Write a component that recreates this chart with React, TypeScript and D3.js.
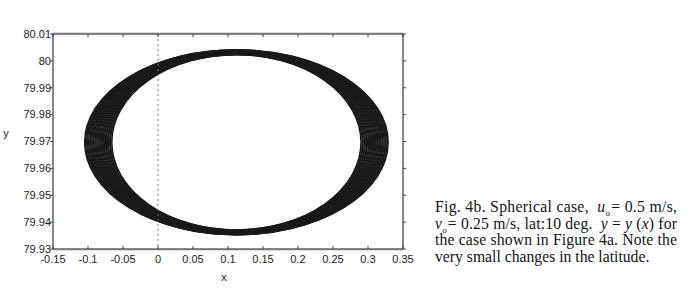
import React from "react";
import * as d3 from "d3";

// tick labels
const xTicks = [-0.15, -0.1, -0.05, 0, 0.05, 0.1, 0.15, 0.2, 0.25, 0.3, 0.35];
const xTickLabels = ["-0.15", "-0.1", "-0.05", "0", "0.05", "0.1", "0.15", "0.2", "0.25", "0.3", "0.35"];
const yTicks = [79.93, 79.94, 79.95, 79.96, 79.97, 79.98, 79.99, 80, 80.01];
const yTickLabels = ["79.93", "79.94", "79.95", "79.96", "79.97", "79.98", "79.99", "80", "80.01"];

// trajectory loops: common centre, estimated half-widths / half-heights
const centerX = [0.112];
const centerY = [79.9697];
const loopRx = [
  0.178, 0.1797, 0.1811, 0.1828, 0.1843, 0.1859, 0.1872, 0.1889, 0.1903,
  0.1918, 0.1934, 0.1947, 0.1963, 0.1978, 0.1992, 0.2008, 0.2021, 0.2037,
  0.2052, 0.2066, 0.2081, 0.2095, 0.2111, 0.2126, 0.2139, 0.2155, 0.2168,
];
const loopRy = [
  0.0326, 0.0327, 0.0327, 0.0328, 0.0329, 0.033, 0.033, 0.0331, 0.0332,
  0.0333, 0.0334, 0.0334, 0.0335, 0.0336, 0.0337, 0.0337, 0.0338, 0.0339,
  0.034, 0.034, 0.0341, 0.0342, 0.0342, 0.0343, 0.0343, 0.0344, 0.0344,
];

const W = 696;
const H = 291;
const left = 53, right = 403, top = 34, bottom = 249;

const App = () => {
  const x = d3.scaleLinear().domain([-0.15, 0.35]).range([left, right]);
  const y = d3.scaleLinear().domain([79.93, 80.01]).range([bottom, top]);

  const axisFont = "'Liberation Sans', Arial, sans-serif";
  const serif = "'Liberation Serif', 'Times New Roman', serif";

  return (
    <svg
      width={W}
      height={H}
      style={{ position: "absolute", left: 0, top: 0, background: "#fff" }}
    >
      {/* loops */}
      <g fill="none" stroke="#1a1a1a" strokeWidth={1.5}>
        {loopRx.map((rx, i) => (
          <ellipse
            key={i}
            cx={x(centerX[0])}
            cy={y(centerY[0])}
            rx={x(rx) - x(0)}
            ry={y(0) - y(loopRy[i])}
          />
        ))}
      </g>

      {/* x = 0 reference */}
      <line
        x1={x(0)} x2={x(0)} y1={top} y2={bottom}
        stroke="#777" strokeWidth={1} strokeDasharray="2,3"
      />

      {/* frame */}
      <line x1={left} x2={right} y1={top - 1} y2={top - 1} stroke="#bbb" />
      <line x1={left} x2={right} y1={bottom + 1} y2={bottom + 1} stroke="#bbb" />
      <rect x={left} y={top} width={right - left} height={bottom - top} fill="none" stroke="#111" strokeWidth={1} />

      {/* ticks */}
      <g stroke="#444" strokeWidth={1}>
        {xTicks.map((t, i) => (
          <g key={i}>
            <line x1={x(t)} x2={x(t)} y1={bottom} y2={bottom - 3} />
            <line x1={x(t)} x2={x(t)} y1={top} y2={top + 3} />
          </g>
        ))}
        {yTicks.map((t, i) => (
          <g key={i}>
            <line x1={left} x2={left - 3} y1={y(t)} y2={y(t)} />
            <line x1={right} x2={right + 3} y1={y(t)} y2={y(t)} />
          </g>
        ))}
      </g>

      {/* tick labels */}
      <g fontFamily={axisFont} fontSize={11} fill="#222">
        {xTicks.map((t, i) => (
          <text key={i} x={x(t)} y={262.5} textAnchor="middle">
            {xTickLabels[i]}
          </text>
        ))}
        {yTicks.map((t, i) => (
          <text key={i} x={left - 2} y={y(t)} dy="0.35em" textAnchor="end">
            {yTickLabels[i]}
          </text>
        ))}
        <text x={224} y={281} textAnchor="middle">x</text>
        <text x={6} y={133} dy="0.35em" textAnchor="middle">y</text>
      </g>

      {/* caption */}
      <g fontFamily={serif} fontSize={15.7} fill="#141414">
        <text x={435} y={212} textLength={242} lengthAdjust="spacing">
          Fig. 4b. Spherical case,{"\u00a0\u00a0"}
          <tspan fontStyle="italic">u</tspan>
          <tspan fontSize={9} dy={4}>o</tspan>
          <tspan dy={-4} dx={1}>= 0.5 m/s,</tspan>
        </text>
        <text x={435} y={228.5} textLength={242} lengthAdjust="spacing">
          <tspan fontStyle="italic">v</tspan>
          <tspan fontSize={9} dy={4}>o</tspan>
          <tspan dy={-4} dx={1}>= 0.25 m/s, lat:10 deg.{"\u00a0\u00a0"}</tspan>
          <tspan fontStyle="italic">y</tspan>
          <tspan> = </tspan>
          <tspan fontStyle="italic">y</tspan>
          <tspan> (</tspan>
          <tspan fontStyle="italic">x</tspan>
          <tspan>) for</tspan>
        </text>
        <text x={435} y={245} textLength={242} lengthAdjust="spacing">
          the case shown in Figure 4a. Note the
        </text>
        <text x={435} y={261.5}>very small changes in the latitude.</text>
      </g>
    </svg>
  );
};

export default App;
